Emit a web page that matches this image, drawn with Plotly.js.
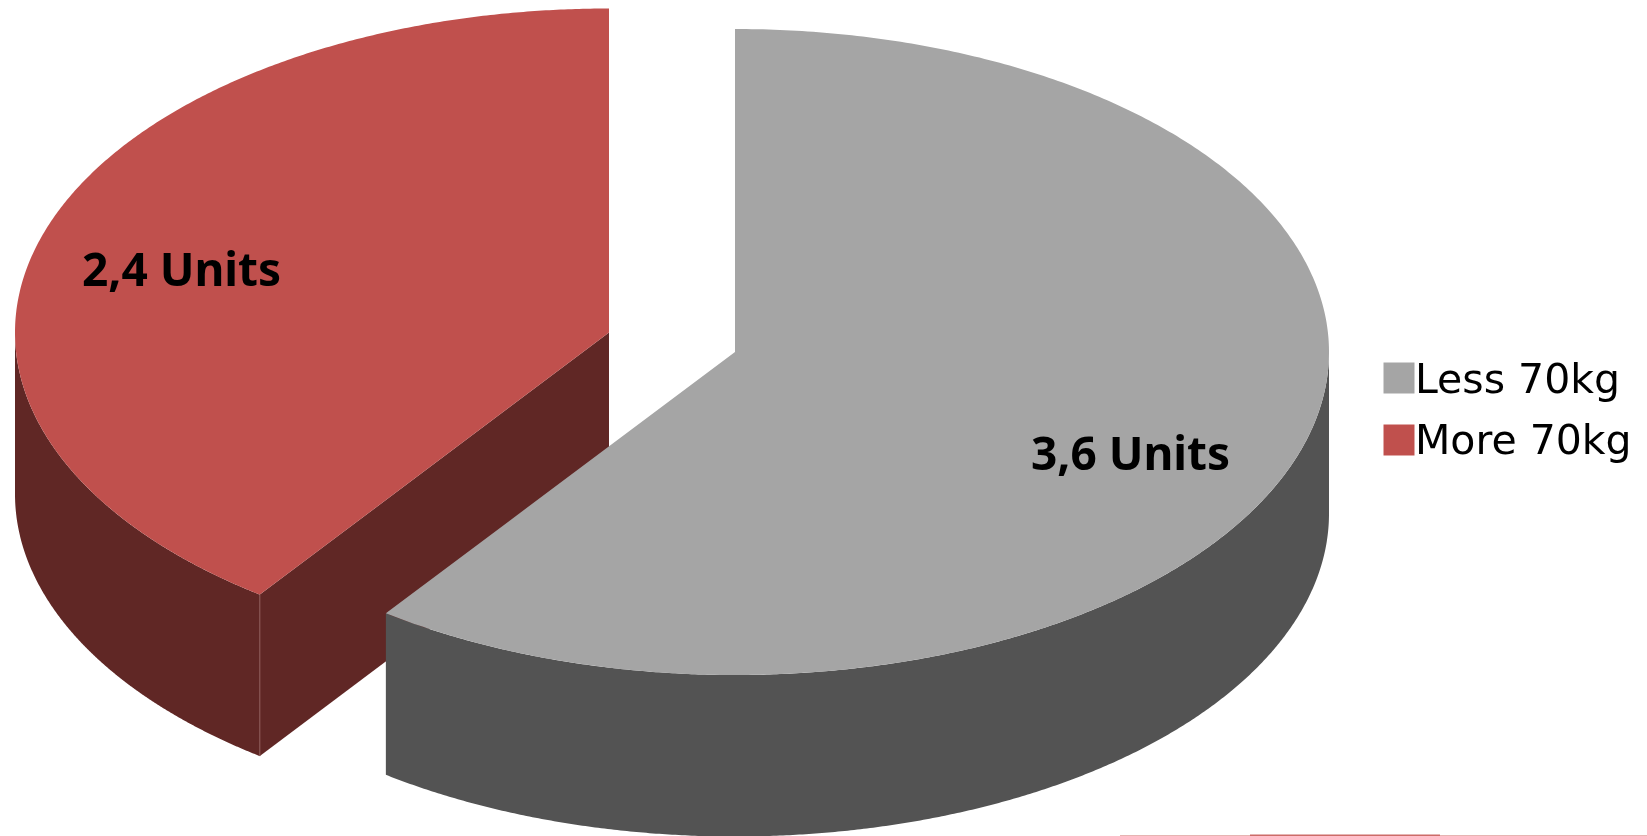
<!DOCTYPE html>
<html><head><meta charset="utf-8">
<script src="https://cdn.plot.ly/plotly-3.0.1.min.js"></script>
<style>html,body{margin:0;padding:0;background:#fff;overflow:hidden}#c{width:1647px;height:836px;filter:blur(0.6px)}</style>
</head><body><div id="c"></div>
<script>
const categories = ['Less 70kg', 'More 70kg'];
const values = [3.6, 2.4];
const valueLabels = ['3,6 Units', '2,4 Units'];
const topColors = ['#a5a5a5', '#c0504d'];
const sideColors = ['#535353', '#602725'];

const RX = 594, DEPTH = 161.5;
const radiiY = [323, 324];
const centers = [[735, 352], [609, 332.5]];
const total = values.reduce((a, b) => a + b, 0);
const FONT = 'DejaVu Sans, sans-serif';
const LABEL_FONT = '"Noto Sans", sans-serif';

function rim(i, a0, a1, dy) {
  const c = centers[i], xs = [], ys = [], n = 400;
  for (let k = 0; k <= n; k++) {
    const a = a0 + (a1 - a0) * k / n;
    xs.push(c[0] + RX * Math.sin(a));
    ys.push(c[1] - radiiY[i] * Math.cos(a) + dy);
  }
  return [xs, ys];
}
function poly(x, y, color, name) {
  return {type: 'scatter', mode: 'lines', x, y, fill: 'toself', fillcolor: color,
    line: {width: 0, color, simplify: false}, hoverinfo: 'skip', showlegend: false, name};
}
function wall(i, a0, a1, color, name) {
  const [x1, y1] = rim(i, a0, a1, 0), [x2, y2] = rim(i, a0, a1, DEPTH);
  return poly(x1.concat(x2.slice().reverse()), y1.concat(y2.slice().reverse()), color, name);
}

const a1 = 2 * Math.PI * values[0] / total;
const red = centers[1], gray = centers[0];
const cornerX = red[0] + RX * Math.sin(a1), cornerY = red[1] - radiiY[1] * Math.cos(a1);
const traces = [];
traces.push(wall(1, a1, 1.5 * Math.PI, sideColors[1], categories[1] + ' wall'));
traces.push(poly([red[0], cornerX, cornerX, red[0]],
  [red[1], cornerY, cornerY + DEPTH, red[1] + DEPTH], sideColors[1], categories[1] + ' cut'));
traces.push({type: 'scatter', mode: 'lines', x: [cornerX, cornerX], y: [cornerY, cornerY + DEPTH],
  line: {width: 1, color: '#8d5a58'}, hoverinfo: 'skip', showlegend: false});
const [rtx, rty] = rim(1, a1, 2 * Math.PI, 0);
traces.push(poly([red[0]].concat(rtx), [red[1]].concat(rty), topColors[1], categories[1]));
traces.push(wall(0, Math.PI / 2, a1, sideColors[0], categories[0] + ' wall'));
const [gtx, gty] = rim(0, 0, a1, 0);
traces.push(poly([gray[0]].concat(gtx), [gray[1]].concat(gty), topColors[0], categories[0]));
traces.push({type: 'scatter', mode: 'markers', x: [1399, 1399], y: [378, 440],
  marker: {symbol: 'square', size: 31, color: topColors, line: {width: 0}},
  hoverinfo: 'skip', showlegend: false});
// faint streak on the bottom edge
traces.push({type: 'scatter', mode: 'lines', x: [1120, 1647], y: [835.5, 835.5],
  line: {width: 1, color: '#e6b4b2'}, hoverinfo: 'skip', showlegend: false});
traces.push({type: 'scatter', mode: 'lines', x: [1250, 1440], y: [835.3, 835.3],
  line: {width: 1.4, color: '#cc6b68'}, hoverinfo: 'skip', showlegend: false});

const ann = (x, y, text, xanchor, family, weight, size) => ({x, y, text, xref: 'x', yref: 'y', xanchor, yanchor: 'middle',
  showarrow: false, font: {family, size, color: '#000', weight}});
const annotations = [
  ann(1130, 452, valueLabels[0], 'center', LABEL_FONT, 700, 46),
  ann(181, 268, valueLabels[1], 'center', LABEL_FONT, 700, 46),
  ann(1413, 379, categories[0], 'left', FONT, 400, 41),
  ann(1413, 440, categories[1], 'left', FONT, 400, 41)
];
Plotly.newPlot('c', traces, {
  width: 1647, height: 836, margin: {l: 0, r: 0, t: 0, b: 0},
  paper_bgcolor: '#fff', plot_bgcolor: '#fff', showlegend: false,
  xaxis: {range: [0, 1647], visible: false, fixedrange: true},
  yaxis: {range: [836, 0], visible: false, fixedrange: true},
  annotations
}, {displayModeBar: false, staticPlot: true});
</script></body></html>
